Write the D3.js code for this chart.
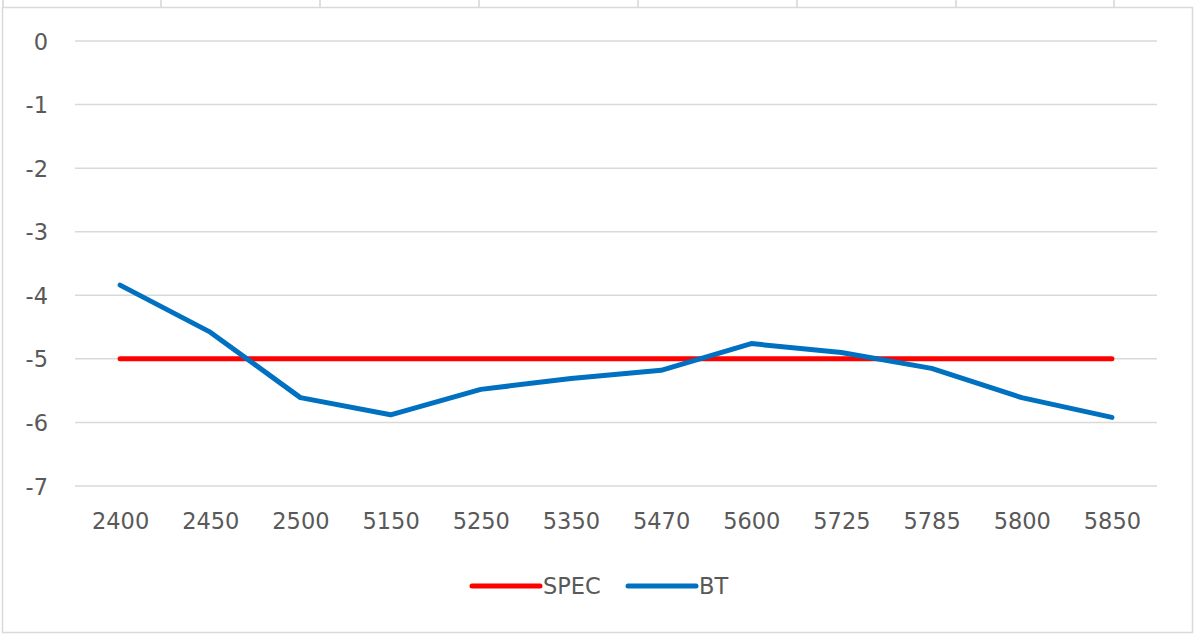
<!DOCTYPE html>
<html>
<head>
<meta charset="utf-8">
<script src="https://cdn.jsdelivr.net/npm/d3@7"></script>
<style>
  html, body { margin: 0; padding: 0; background: #fff; }
  svg { display: block; }
  text { font-family: "DejaVu Sans", sans-serif; fill: #595959; }
</style>
</head>
<body>
<svg id="chart" width="1196" height="635"></svg>
<script>
const categories = ["2400","2450","2500","5150","5250","5350","5470","5600","5725","5785","5800","5850"];
const specValues = [-5,-5,-5,-5,-5,-5,-5,-5,-5,-5,-5,-5];
const btValues = [-3.84,-4.58,-5.61,-5.88,-5.48,-5.31,-5.18,-4.76,-4.90,-5.15,-5.61,-5.92];
const yTicks = [0,-1,-2,-3,-4,-5,-6,-7];
const seriesNames = ["SPEC","BT"];
const seriesColors = ["#FF0000","#0070C0"];
const fontSize = 22.5;

const svg = d3.select("#chart");

// spreadsheet cell lines peeking above the chart
const cellLines = [3,161,320,479,638,797,956,1114];
svg.selectAll("line.cell").data(cellLines).enter().append("line")
  .attr("x1", d => d).attr("x2", d => d).attr("y1", 0).attr("y2", 8)
  .attr("stroke", "#d4d4d4").attr("stroke-width", 1.5);

// chart area border
svg.append("rect").attr("x", 2.5).attr("y", 7.5).attr("width", 1190).attr("height", 625)
  .attr("fill", "#fff").attr("stroke", "#d9d9d9").attr("stroke-width", 1.5);

const x = d3.scalePoint().domain(categories).range([75, 1157]).padding(0.5);
const y = d3.scaleLinear().domain([-7, 0]).range([486, 41]);

// gridlines
svg.append("g").selectAll("line").data(yTicks).enter().append("line")
  .attr("x1", 75).attr("x2", 1157)
  .attr("y1", d => y(d)).attr("y2", d => y(d))
  .attr("stroke", "#d9d9d9").attr("stroke-width", 1.5);

// y axis labels (hyphen-minus as in the reference)
const yAxis = d3.axisLeft(y).tickValues(yTicks).tickSize(0).tickPadding(0).tickFormat(d => String(d));
const gy = svg.append("g").attr("transform", "translate(48,0)").call(yAxis);
gy.select(".domain").remove();
gy.selectAll("text").attr("font-size", fontSize).attr("font-family", "DejaVu Sans, sans-serif")
  .attr("fill", "#595959").attr("dy", "0.36em");

// x axis labels
const xAxis = d3.axisBottom(x).tickSize(0).tickPadding(0);
const gx = svg.append("g").attr("transform", "translate(0,521)").call(xAxis);
gx.select(".domain").remove();
gx.selectAll("text").attr("font-size", fontSize).attr("font-family", "DejaVu Sans, sans-serif")
  .attr("fill", "#595959").attr("dy", "0.36em");

// lines
const line = d3.line().x((d, i) => x(categories[i])).y(d => y(d));
const allSeries = [specValues, btValues];
svg.append("g").selectAll("path").data(allSeries).enter().append("path")
  .attr("d", d => line(d))
  .attr("fill", "none")
  .attr("stroke", (d, i) => seriesColors[i])
  .attr("stroke-width", 5)
  .attr("stroke-linecap", "round")
  .attr("stroke-linejoin", "round");

// legend
const legendX = [472, 628];
const lg = svg.append("g").selectAll("g").data(seriesNames).enter().append("g")
  .attr("transform", (d, i) => `translate(${legendX[i]},586)`);
lg.append("line").attr("x1", 0).attr("x2", 68).attr("y1", 0).attr("y2", 0)
  .attr("stroke", (d, i) => seriesColors[i]).attr("stroke-width", 5).attr("stroke-linecap", "round");
lg.append("text").attr("x", 71).attr("y", 0).attr("dy", "0.36em")
  .attr("font-size", fontSize).text(d => d);
</script>
</body>
</html>
